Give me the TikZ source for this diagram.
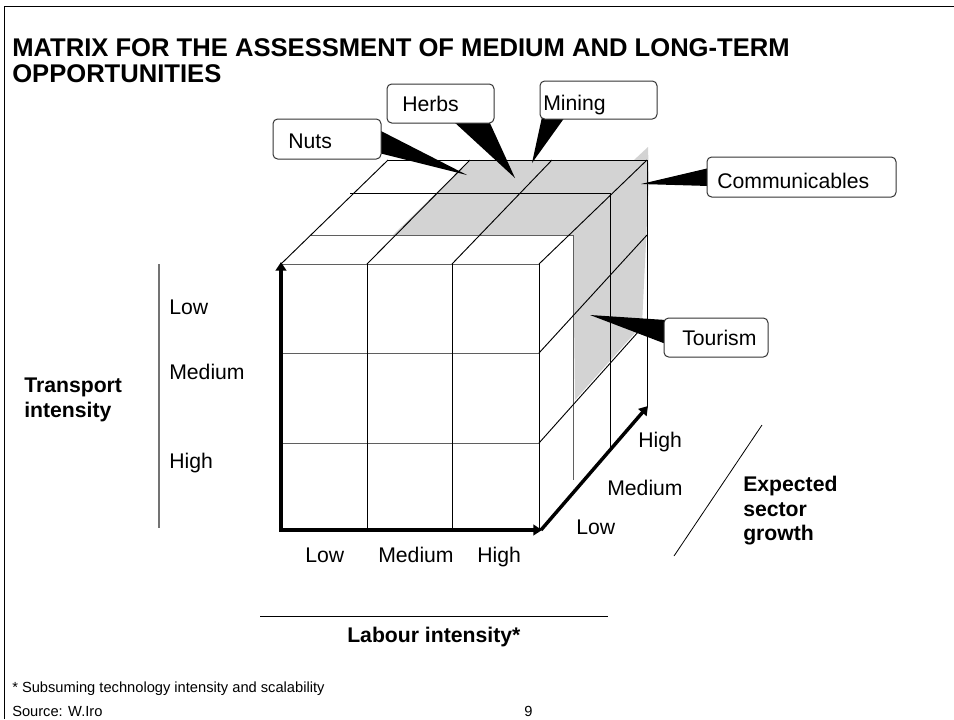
\documentclass[tikz,border=0pt]{standalone}
\usepackage{fontspec}
\setmainfont{Liberation Sans}
\usetikzlibrary{arrows.meta}
\definecolor{slabgray}{RGB}{211,211,211}
\definecolor{edgegray}{RGB}{95,95,95}
\begin{document}
\begin{tikzpicture}[x=0.75pt,y=-0.75pt,
  lbl/.style={font=\fontsize{15.9}{19}\selectfont, inner sep=0pt, anchor=base west},
  blbl/.style={font=\bfseries\fontsize{15.9}{19}\selectfont, inner sep=0pt, anchor=base west},
  ttl/.style={font=\bfseries\fontsize{19.2}{20}\selectfont, inner sep=0pt, anchor=base west},
  foot/.style={font=\fontsize{11}{13}\selectfont, inner sep=0pt, anchor=base west},
  calbox/.style={draw=black!80, line width=0.75pt, rounded corners=3.5pt, fill=white, inner sep=0pt},
  wedge/.style={fill=black},
  axarrow/.style={line width=2.6pt, -{Triangle[length=6.5pt,width=8pt]}},
  cube/.style={line width=0.7pt},
  thinline/.style={line width=0.7pt}]
\useasboundingbox (0,0) rectangle (954,719);

% frame
\draw[thinline] (4,719) -- (4,6) -- (954,6);

% title
\node[ttl] (t1) at (12,56) {MATRIX FOR THE ASSESSMENT OF MEDIUM AND LONG-TERM};
\node[ttl] (t2) at (12,82) {OPPORTUNITIES};

% gray highlighted slab
\fill[slabgray] (470,160) -- (634,160) -- (648,147) -- (649,180) -- (642,325)
  -- (575,400) -- (573,235) -- (393,235) -- cycle;

% front face grid
\draw[cube, draw=edgegray] (281,264) -- (539,264) (281,353) -- (539,353) (281,443) -- (539,443);
\draw[cube] (367,264) -- (367,530) (452,264) -- (452,530) (539,264) -- (539,530);

% top face and right face
\draw[cube, draw=edgegray] (310,235) -- (573,235) -- (573,480);
\draw[cube] (350,193) -- (610,193) -- (610,447);
\draw[cube] (388,160) -- (647,160) -- (647,407);
\draw[cube] (281,264) -- (388,160) (367,264) -- (470,160) (452,264) -- (552,160) (539,264) -- (647,160);
\draw[cube] (539,353) -- (647,235) (539,443) -- (647,322);

% axes arrows
\coordinate (o) at (281,530);
\coordinate (ytip) at (281,262);
\coordinate (xtip) at (542,530);
\coordinate (ztip) at (648,406);
\draw[axarrow] ([yshift=-1.3pt]o) -- (ytip);
\draw[axarrow] ([xshift=-1.3pt]o) -- (xtip);
\draw[axarrow] (541,530) -- (ztip);

% left scale
\draw[line width=0.9pt, draw=black!55] (159,264) -- (159,528);
\node[lbl] (ylow) at (169,314) {Low};
\node[lbl] (ymed) at (169,379) {Medium};
\node[lbl] (yhigh) at (169,468) {High};
\node[blbl] (tr1) at (24,392) {Transport};
\node[blbl] (tr2) at (24,417) {intensity};

% bottom scale
\node[lbl] (xlow) at (305,562) {Low};
\node[lbl] (xmed) at (378,562) {Medium};
\node[lbl] (xhigh) at (477,562) {High};
\draw[thinline] (260,616) -- (608,616);
\node[blbl] (lab) at (347,642) {Labour intensity*};

% depth scale
\node[lbl] (zhigh) at (638,447) {High};
\node[lbl] (zmed) at (607,495) {Medium};
\node[lbl] (zlow) at (576,534) {Low};
\draw[line width=0.6pt] (762,425) -- (674,556);
\node[blbl] (e1) at (743,491) {Expected};
\node[blbl] (e2) at (743,516) {sector};
\node[blbl] (e3) at (743,540) {growth};

% callout wedges
\coordinate (nutstip) at (467,175);
\coordinate (herbstip) at (515,178);
\coordinate (miningtip) at (532,163);
\coordinate (commtip) at (641,184);
\coordinate (tourtip) at (590,315);
\fill[wedge] (379,130) -- (nutstip) -- (379,153) -- cycle;
\fill[wedge] (453,121) -- (herbstip) -- (489,121) -- cycle;
\fill[wedge] (542,117) -- (miningtip) -- (565,117) -- cycle;
\fill[wedge] (709,168) -- (commtip) -- (709,186) -- cycle;
\fill[wedge] (666,320) -- (tourtip) -- (666,344) -- cycle;

% callout boxes
\node[calbox, minimum width=81pt, minimum height=30pt] (nuts) at (327,139) {};
\node[calbox, minimum width=80.25pt, minimum height=29.25pt] (herbs) at (440.5,103.5) {};
\node[calbox, minimum width=87.75pt, minimum height=28.5pt] (mining) at (598.5,100) {};
\node[calbox, minimum width=141.75pt, minimum height=30pt] (comm) at (801.5,177) {};
\node[calbox, minimum width=78pt, minimum height=29.25pt] (tour) at (716,337.5) {};
\node[lbl] (nutst) at (288,148) {Nuts};
\node[lbl] (herbst) at (402,111) {Herbs};
\node[lbl] (miningt) at (543,110) {Mining};
\node[lbl] (commt) at (717,188) {Communicables};
\node[lbl] (tourt) at (682,345) {Tourism};

% footer
\node[foot] (f1) at (12,692) {* Subsuming technology intensity and scalability};
\node[foot] (f2) at (12,716) {Source: W.Iro};
\node[foot] (f3) at (524,716) {9};
\end{tikzpicture}
\end{document}
